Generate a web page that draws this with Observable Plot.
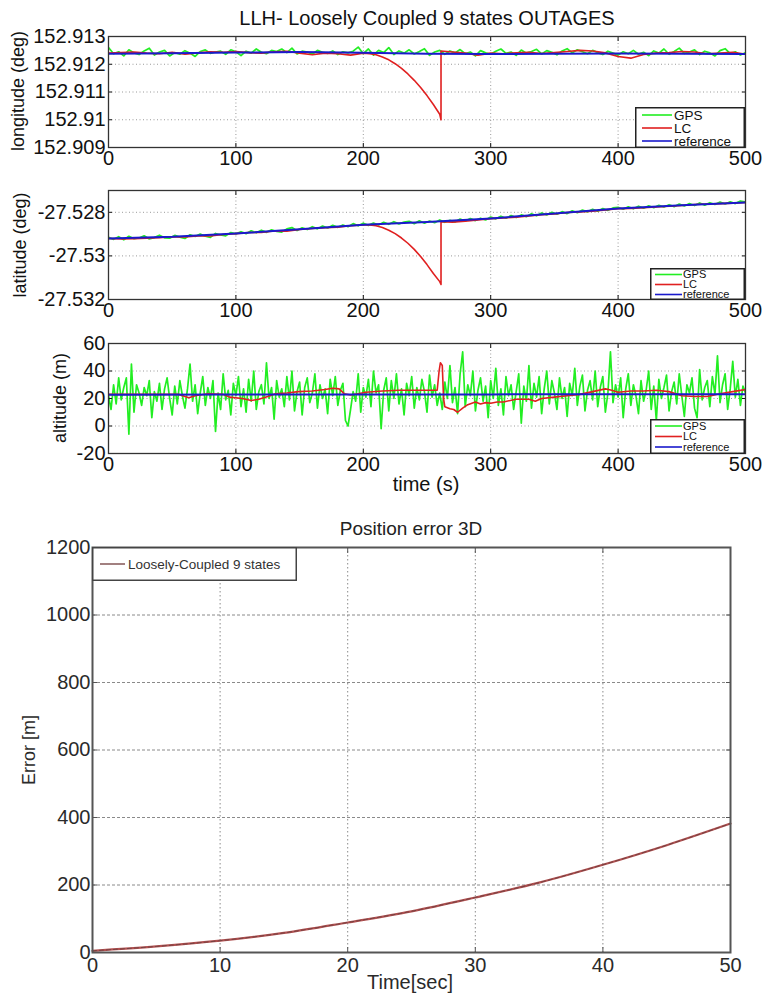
<!DOCTYPE html>
<html><head><meta charset="utf-8">
<script src="https://cdn.jsdelivr.net/npm/d3@7"></script>
<script src="https://cdn.jsdelivr.net/npm/@observablehq/plot@0.6"></script>
<style>
body{margin:0;background:#fff;}
#root{position:relative;width:770px;height:1000px;overflow:hidden;font-family:"Liberation Sans",Arial,sans-serif;background:#fff;}
.lbl{position:absolute;white-space:nowrap;line-height:1;}
</style></head><body><div id="root"></div>
<script>
// ---------- DATA ----------
const timeTicks = [0,100,200,300,400,500];
const lonTicks = [152.909,152.910,152.911,152.912,152.913];
const latTicks = [-27.532,-27.530,-27.528];
const altTicks = [-20,0,20,40,60];
const secTicks = [0,10,20,30,40,50];
const errTicks = [0,200,400,600,800,1000,1200];

// GPS sample times (every 4 s for lon/lat, every 2 s for altitude)
const gpsTime4 = d3.range(0, 501, 4);
const gpsTime2 = d3.range(0, 501, 2);

const lonGps = [
152.91260,152.91238,152.91245,152.91230,152.91252,152.91241,152.91235,152.91248,152.91258,152.91233,
152.91244,152.91250,152.91230,152.91242,152.91236,152.91249,152.91240,152.91228,152.91246,152.91252,
152.91239,152.91244,152.91247,152.91236,152.91252,152.91245,152.91231,152.91247,152.91240,152.91255,
152.91243,152.91238,152.91250,152.91246,152.91255,152.91242,152.91258,152.91237,152.91247,152.91244,
152.91236,152.91250,152.91243,152.91239,152.91248,152.91235,152.91245,152.91241,152.91247,152.91262,
152.91238,152.91255,152.91233,152.91250,152.91242,152.91260,152.91235,152.91248,152.91240,152.91252,
152.91237,152.91246,152.91256,152.91232,152.91244,152.91250,152.91236,152.91248,152.91241,152.91253,
152.91238,152.91244,152.91230,152.91249,152.91241,152.91236,152.91247,152.91255,152.91239,152.91244,
152.91232,152.91251,152.91240,152.91246,152.91254,152.91237,152.91249,152.91243,152.91234,152.91248,
152.91256,152.91241,152.91252,152.91245,152.91238,152.91250,152.91242,152.91235,152.91247,152.91240,
152.91233,152.91245,152.91238,152.91250,152.91236,152.91243,152.91231,152.91248,152.91240,152.91255,
152.91236,152.91246,152.91258,152.91239,152.91244,152.91252,152.91235,152.91247,152.91241,152.91230,
152.91249,152.91256,152.91238,152.91245,152.91233,152.91242];

const lonLcTime = [0,10,20,30,40,50,60,70,80,90,100,110,120,130,140,150,160,170,180,190,200,
  205,210,215,220,225,230,235,240,245,250,255,260,261,261,270,280,290,300,310,320,330,340,350,
  360,370,380,390,400,410,420,430,440,450,460,470,480,490,500];
const lonLc = [152.91240,152.91242,152.91244,152.91240,152.91238,152.91243,152.91236,152.91241,152.91245,152.91243,
  152.91246,152.91242,152.91240,152.91245,152.91247,152.91240,152.91234,152.91240,152.91238,152.91233,152.91240,
  152.91238,152.91234,152.91226,152.91216,152.91202,152.91185,152.91165,152.91142,152.91116,152.91087,152.91055,
  152.91020,152.91000,152.91248,152.91244,152.91240,152.91233,152.91240,152.91238,152.91241,152.91243,152.91239,
  152.91242,152.91246,152.91250,152.91248,152.91241,152.91228,152.91222,152.91235,152.91240,152.91242,152.91246,
  152.91244,152.91238,152.91240,152.91243,152.91236];

const lonRefTime = [0,50,100,150,200,250,300,350,400,450,500];
const lonRef = [152.91238,152.91240,152.91242,152.91244,152.91241,152.91238,152.91237,152.91238,152.91239,152.91238,152.91237];

const latGps = [
-27.52915,-27.52924,-27.52912,-27.52926,-27.52910,-27.52921,-27.52918,-27.52908,-27.52922,-27.52916,
-27.52905,-27.52917,-27.52919,-27.52906,-27.52914,-27.52920,-27.52903,-27.52911,-27.52900,-27.52910,
-27.52915,-27.52897,-27.52904,-27.52908,-27.52893,-27.52899,-27.52889,-27.52898,-27.52885,-27.52894,
-27.52882,-27.52892,-27.52880,-27.52888,-27.52891,-27.52876,-27.52870,-27.52884,-27.52871,-27.52879,
-27.52866,-27.52876,-27.52863,-27.52872,-27.52860,-27.52869,-27.52858,-27.52866,-27.52852,-27.52862,
-27.52850,-27.52860,-27.52849,-27.52858,-27.52846,-27.52855,-27.52843,-27.52853,-27.52845,-27.52841,
-27.52852,-27.52839,-27.52850,-27.52840,-27.52848,-27.52835,-27.52846,-27.52837,-27.52844,-27.52831,
-27.52840,-27.52829,-27.52838,-27.52827,-27.52835,-27.52822,-27.52830,-27.52818,-27.52827,-27.52815,
-27.52824,-27.52812,-27.52820,-27.52807,-27.52816,-27.52803,-27.52812,-27.52800,-27.52809,-27.52797,
-27.52806,-27.52793,-27.52802,-27.52790,-27.52798,-27.52786,-27.52795,-27.52783,-27.52791,-27.52780,
-27.52777,-27.52786,-27.52775,-27.52784,-27.52772,-27.52781,-27.52770,-27.52779,-27.52768,-27.52776,
-27.52765,-27.52774,-27.52762,-27.52771,-27.52760,-27.52769,-27.52757,-27.52767,-27.52756,-27.52764,
-27.52753,-27.52762,-27.52752,-27.52760,-27.52748,-27.52752];

const latLcTime = lonLcTime;
const latLc = [-27.52920,-27.52922,-27.52921,-27.52919,-27.52916,-27.52912,-27.52913,-27.52908,-27.52909,-27.52902,
  -27.52898,-27.52893,-27.52892,-27.52886,-27.52887,-27.52879,-27.52874,-27.52871,-27.52868,-27.52862,-27.52858,
  -27.52858,-27.52862,-27.52870,-27.52882,-27.52898,-27.52918,-27.52942,-27.52970,-27.53003,-27.53040,-27.53081,
  -27.53118,-27.53131,-27.52843,-27.52845,-27.52841,-27.52835,-27.52829,-27.52826,-27.52822,-27.52817,-27.52811,
  -27.52808,-27.52801,-27.52798,-27.52795,-27.52789,-27.52783,-27.52782,-27.52779,-27.52776,-27.52772,-27.52769,
  -27.52764,-27.52762,-27.52760,-27.52758,-27.52755];

const latRefTime = [0,50,100,150,200,250,300,350,400,450,500];
const latRef = [-27.52920,-27.52912,-27.52897,-27.52878,-27.52857,-27.52845,-27.52828,-27.52805,-27.52783,-27.52768,-27.52755];

const altGps = [
22,12,30,16,35,19,28,35,-6,45,
10,30,24,15,28,22,33,6,25,18,
31,12,27,35,20,8,29,16,33,22,
13,27,45,18,30,9,24,36,15,28,
20,33,-4,24,12,38,19,26,8,31,
22,36,14,27,10,34,18,40,12,25,
30,16,46,20,28,5,33,21,27,14,
36,19,40,11,25,32,8,28,35,17,
24,38,13,30,20,27,9,34,22,36,
15,26,31,4,0,12,25,18,38,10,
28,21,34,14,40,24,30,-2,26,35,
11,33,20,38,16,27,8,31,22,36,
13,28,19,34,25,10,37,21,30,15,
24,12,32,20,44,17,28,9,38,54,
14,30,22,40,11,26,35,18,29,6,
33,20,42,15,27,8,36,22,30,12,
25,38,2,29,18,44,13,31,21,36,
9,27,40,16,33,24,12,35,20,28,
7,31,22,42,15,29,37,11,26,33,
19,40,14,28,36,10,24,54,17,30,
21,35,6,27,38,15,30,22,9,33,
18,26,40,12,29,4,34,20,28,37,
11,25,32,16,38,22,7,30,24,35,
13,6,41,19,28,33,14,36,23,51,
17,30,38,12,27,47,21,34,15,29,
24];

const altLcTime = [0,30,55,60,63,68,78,90,95,105,112,118,125,131,140,149,160,170,176,181,185,190,196,202,215,228,240,258,
  259.5,260.5,262,263,264,268,271,274,278,282,288,292,296,300,305,310,320,330,335,340,350,360,370,380,390,395,400,410,
  420,430,440,450,460,470,480,490,500];
const altLc = [23,23,23,21.5,20.5,22,23.5,23,21,20,18.5,19.5,21.5,23.5,24,25,25.5,26.5,27.5,27,23.5,22.5,23.5,24.5,25.5,26,26,26,
  40,46,44,20,14,12.5,12,10,13,15.5,17.5,16,17,16.5,17.5,17.5,19.5,19.5,18,20,21,22,23,25,27,26,24.5,25.5,
  25.5,26,25,22,21.5,21.5,23.5,25,26.5];

const altRefTime = [0,100,200,300,400,500];
const altRef = [22.8,22.9,23.0,23.0,23.1,23.1];

const errTime = [0,5,10,15,20,25,30,35,40,45,50];
const posErr = [5,18,35,58,89,122,163,207,260,318,382];

const seriesNames = ["GPS","LC","reference"];
const seriesColors = ["#22ee22","#e02020","#1a1acc"];

// ---------- DRAW ----------
const FONT = '"Liberation Sans", Arial, Helvetica, sans-serif';
const root = document.getElementById("root");
const rows = (ts, vs) => vs.map((v, i) => ({t: ts[i], v}));
const fmt3 = d => String(+d.toFixed(3));

function place(svg, top) {
  svg.style.position = "absolute";
  svg.style.left = "0px";
  svg.style.top = top + "px";
  svg.style.overflow = "visible";
  root.appendChild(svg);
}
function label(text, cx, cy, size, opts = {}) {
  const d = document.createElement("div");
  d.className = "lbl";
  d.textContent = text;
  d.style.left = cx + "px";
  d.style.top = cy + "px";
  d.style.fontSize = size + "px";
  d.style.color = opts.color || "#111";
  if (opts.weight) d.style.fontWeight = opts.weight;
  d.style.transform = "translate(-50%,-50%)" + (opts.rotate ? " rotate(-90deg)" : "");
  root.appendChild(d);
}
function legend(left, top, w, h, names, colors, rowYs, x1, x2, tx, font, opts = {}) {
  const d = document.createElement("div");
  d.style.cssText = `position:absolute;left:${left}px;top:${top}px;width:${w}px;height:${h}px;`;
  let s = `<svg width="${w}" height="${h}" style="position:absolute;left:0;top:0;overflow:visible">`;
  s += `<rect x="0.75" y="0.75" width="${w - 1.5}" height="${h - 1.5}" fill="#fff" stroke="${opts.border || "#222"}" stroke-width="1.5"/>`;
  names.forEach((n, i) => {
    s += `<line x1="${x1}" x2="${x2}" y1="${rowYs[i]}" y2="${rowYs[i]}" stroke="${colors[i]}" stroke-width="1.6"/>`;
    s += `<text x="${tx}" y="${rowYs[i]}" dy="0.36em" font-size="${font}" font-family='${FONT}' fill="${opts.color || "#111"}">${n}</text>`;
  });
  s += "</svg>";
  d.innerHTML = s;
  root.appendChild(d);
}

function llh({top, height, mt, mb, domain, ticks, tfmt, gps, lc, ref}) {
  const grid = {stroke: "#9a9a9a", strokeOpacity: 1, strokeDasharray: "1,2.5", strokeWidth: 1};
  const svg = Plot.plot({
    width: 770, height, marginLeft: 108, marginRight: 25, marginTop: mt, marginBottom: mb,
    style: {fontFamily: FONT, fontSize: "20px", color: "#111", background: "transparent", overflow: "visible"},
    x: {domain: [0, 500], label: null},
    y: {domain, label: null},
    marks: [
      Plot.gridX(timeTicks, grid),
      Plot.gridY(ticks, grid),
      Plot.line(gps, {x: "t", y: "v", stroke: seriesColors[0], strokeWidth: 1.7, clip: true}),
      Plot.line(lc, {x: "t", y: "v", stroke: seriesColors[1], strokeWidth: 1.6, clip: true}),
      Plot.line(ref, {x: "t", y: "v", stroke: seriesColors[2], strokeWidth: 2, clip: true}),
      Plot.axisX(timeTicks, {tickSize: -4, tickPadding: 7, tickFormat: d => String(d), label: null}),
      Plot.axisY(ticks, {tickSize: -4, tickPadding: 7, tickFormat: tfmt, label: null}),
      Plot.axisX(timeTicks, {anchor: "top", tickSize: -4, tickFormat: () => "", label: null}),
      Plot.axisY(ticks, {anchor: "right", tickSize: -4, tickFormat: () => "", label: null}),
      Plot.frame({stroke: "#333", strokeWidth: 1.3})
    ]
  });
  place(svg, top);
}

// Panel 1: longitude
llh({top: 0, height: 175, mt: 36, mb: 28, domain: [152.909, 152.913], ticks: lonTicks, tfmt: fmt3,
  gps: rows(gpsTime4, lonGps), lc: rows(lonLcTime, lonLc), ref: rows(lonRefTime, lonRef)});
// Panel 2: latitude
llh({top: 175, height: 150, mt: 15, mb: 26, domain: [-27.532, -27.527], ticks: latTicks, tfmt: fmt3,
  gps: rows(gpsTime4, latGps), lc: rows(latLcTime, latLc), ref: rows(latRefTime, latRef)});
// Panel 3: altitude
llh({top: 325, height: 165, mt: 18, mb: 37, domain: [-20, 60], ticks: altTicks, tfmt: d => String(d),
  gps: rows(gpsTime2, altGps), lc: rows(altLcTime, altLc), ref: rows(altRefTime, altRef)});

label("LLH- Loosely Coupled 9 states OUTAGES", 427, 18, 20);
label("longitude (deg)", 18, 91, 18, {rotate: true});
label("latitude (deg)", 20, 245, 18, {rotate: true});
label("altitude (m)", 60, 398, 18, {rotate: true});
label("time (s)", 426, 484, 20);

legend(635, 107, 110, 41, seriesNames, seriesColors, [8, 21, 34], 7, 37, 39, 13.5);
legend(650, 268, 95, 32, seriesNames, seriesColors, [6.5, 16.5, 26.5], 5, 32, 33, 11);
legend(650, 419, 95, 35, seriesNames, seriesColors, [7, 17.5, 28], 5, 32, 33, 11);

// Panel 4: position error 3D
{
  const svg = Plot.plot({
    width: 770, height: 500, marginLeft: 92, marginRight: 40, marginTop: 47, marginBottom: 48,
    style: {fontFamily: FONT, fontSize: "20px", color: "#2a2a2a", background: "transparent", overflow: "visible"},
    x: {domain: [0, 50], label: null},
    y: {domain: [0, 1200], label: null},
    marks: [
      Plot.gridX(secTicks, {stroke: "#8a8a8a", strokeOpacity: 1, strokeDasharray: "1.5,2.5"}),
      Plot.gridY(errTicks, {stroke: "#8a8a8a", strokeOpacity: 1, strokeDasharray: "3,2"}),
      Plot.line(rows(errTime, posErr), {x: "t", y: "v", stroke: "#b05050", strokeWidth: 2.2, curve: "monotone-x"}),
      Plot.line(rows(errTime, posErr), {x: "t", y: "v", stroke: "#5a3a3a", strokeWidth: 0.7, strokeDasharray: "4,3", curve: "monotone-x"}),
      Plot.axisX(secTicks, {tickSize: -5, tickPadding: 10, tickFormat: d => String(d), label: null, stroke: "#555"}),
      Plot.axisY(errTicks, {tickSize: -5, tickPadding: 7, tickFormat: d => String(d), label: null, stroke: "#555"}),
      Plot.axisX(secTicks, {anchor: "top", tickSize: -5, tickFormat: () => "", label: null, stroke: "#555"}),
      Plot.axisY(errTicks, {anchor: "right", tickSize: -5, tickFormat: () => "", label: null, stroke: "#555"}),
      Plot.frame({stroke: "#555", strokeWidth: 2})
    ]
  });
  place(svg, 500);
}
label("Position error 3D", 411, 528, 19, {color: "#222"});
label("Error [m]", 29, 750, 18, {rotate: true, color: "#2a2a2a"});
label("Time[sec]", 410, 982, 20, {color: "#2a2a2a"});
legend(92, 547, 205, 34, ["Loosely-Coupled 9 states"], ["#8b6060"], [17], 8, 33, 36, 13.5, {border: "#444", color: "#333"});
</script></body></html>
